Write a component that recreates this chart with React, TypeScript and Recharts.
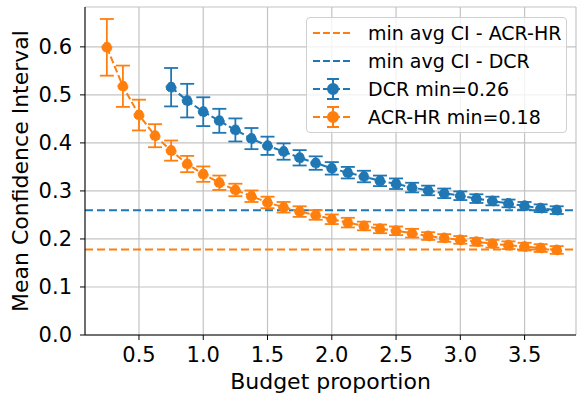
import * as React from 'react'
import { CartesianGrid, ErrorBar, Line, LineChart, ReferenceLine, XAxis, YAxis } from 'recharts'

const BLUE = '#1f77b4'
const ORANGE = '#ff7f0e'
const FONT = 'DejaVu Sans, Verdana, sans-serif'

// budget proportions of each series
const acrBudget = [0.25, 0.375, 0.5, 0.625, 0.75, 0.875, 1.0, 1.125, 1.25, 1.375, 1.5, 1.625, 1.75, 1.875, 2.0,
  2.125, 2.25, 2.375, 2.5, 2.625, 2.75, 2.875, 3.0, 3.125, 3.25, 3.375, 3.5, 3.625, 3.75]
const dcrBudget = [0.75, 0.875, 1.0, 1.125, 1.25, 1.375, 1.5, 1.625, 1.75, 1.875, 2.0,
  2.125, 2.25, 2.375, 2.5, 2.625, 2.75, 2.875, 3.0, 3.125, 3.25, 3.375, 3.5, 3.625, 3.75]

const acrMean = [0.599, 0.518, 0.458, 0.415, 0.384, 0.356, 0.335, 0.317, 0.302, 0.289, 0.276, 0.266, 0.257, 0.250, 0.241,
  0.234, 0.227, 0.221, 0.217, 0.212, 0.206, 0.202, 0.198, 0.194, 0.190, 0.187, 0.184, 0.181, 0.177]
const acrErr = [0.059, 0.043, 0.032, 0.024, 0.021, 0.017, 0.016, 0.015, 0.013, 0.012, 0.012, 0.011, 0.011, 0.010, 0.010,
  0.010, 0.009, 0.009, 0.009, 0.009, 0.008, 0.008, 0.008, 0.008, 0.008, 0.008, 0.008, 0.008, 0.008]

const dcrMean = [0.516, 0.488, 0.465, 0.446, 0.427, 0.409, 0.394, 0.382, 0.369, 0.358, 0.347,
  0.338, 0.330, 0.321, 0.315, 0.307, 0.301, 0.295, 0.290, 0.284, 0.279, 0.274, 0.269, 0.264, 0.260]
const dcrErr = [0.040, 0.035, 0.030, 0.025, 0.024, 0.022, 0.019, 0.017, 0.016, 0.014, 0.013,
  0.012, 0.012, 0.011, 0.011, 0.010, 0.010, 0.010, 0.009, 0.009, 0.009, 0.008, 0.008, 0.008, 0.008]

const minAcr = 0.178
const minDcr = 0.26

const xTicks = [0.5, 1.0, 1.5, 2.0, 2.5, 3.0, 3.5]
const yTicks = [0.0, 0.1, 0.2, 0.3, 0.4, 0.5, 0.6]

const acrData = acrBudget.map((b, i) => ({ budget: b, value: acrMean[i], err: acrErr[i] }))
const dcrData = dcrBudget.map((b, i) => ({ budget: b, value: dcrMean[i], err: dcrErr[i] }))

function Handle({ color, marker }: { color: string, marker: boolean }) {
  return (
    <svg width={40} height={28} style={{ display: 'block' }}>
      <line x1={0} x2={40} y1={14} y2={14} stroke={color} strokeWidth={2} strokeDasharray="7 3" />
      {marker && (
        <g stroke={color} strokeWidth={2}>
          <line x1={20} x2={20} y1={4} y2={24} />
          <line x1={14} x2={26} y1={4} y2={4} />
          <line x1={14} x2={26} y1={24} y2={24} />
          <circle cx={20} cy={14} r={5} fill={color} />
        </g>
      )}
    </svg>
  )
}

const legendRows = [
  { label: 'min avg CI - ACR-HR', color: ORANGE, marker: false },
  { label: 'min avg CI - DCR', color: BLUE, marker: false },
  { label: 'DCR min=0.26', color: BLUE, marker: true },
  { label: 'ACR-HR min=0.18', color: ORANGE, marker: true },
]

export default function App() {
  return (
    <div style={{ position: 'absolute', left: 0, top: 0, width: 578, height: 394, background: '#fff', fontFamily: FONT }}>
      <LineChart width={578} height={394} margin={{ top: 7, right: 2, bottom: 0, left: 0 }}>
        <CartesianGrid stroke="#c4c4c4" strokeWidth={1.2} />
        <XAxis
          dataKey="budget"
          type="number"
          domain={[0.08, 3.9]}
          ticks={xTicks}
          tickFormatter={(v: number) => v.toFixed(1)}
          height={59}
          tickSize={5}
          tickMargin={7}
          stroke="#000"
          tick={{ fill: '#000', fontSize: 21, fontFamily: FONT }}
          label={{ value: 'Budget proportion', position: 'center', dy: 17, fill: '#000', fontSize: 22, fontFamily: FONT }}
          allowDataOverflow
        />
        <XAxis xAxisId="top" orientation="top" type="number" domain={[0.08, 3.9]} height={0} tick={false} tickLine={false} stroke="#000" />
        <YAxis
          type="number"
          domain={[0, 0.683]}
          ticks={yTicks}
          tickFormatter={(v: number) => v.toFixed(1)}
          width={85}
          tickSize={5}
          tickMargin={8}
          stroke="#000"
          tick={{ fill: '#000', fontSize: 21, fontFamily: FONT }}
          label={{ value: 'Mean Confidence Interval', angle: -90, position: 'center', dx: -22, fill: '#000', fontSize: 22, fontFamily: FONT }}
          allowDataOverflow
        />
        <YAxis yAxisId="right" orientation="right" width={0} tick={false} tickLine={false} stroke="#000" />
        <ReferenceLine y={minAcr} stroke={ORANGE} strokeWidth={2} strokeDasharray="8 4" />
        <ReferenceLine y={minDcr} stroke={BLUE} strokeWidth={2} strokeDasharray="8 4" />
        <Line
          data={dcrData}
          dataKey="value"
          stroke={BLUE}
          strokeWidth={2}
          strokeDasharray="7 3"
          dot={{ r: 5, fill: BLUE, stroke: BLUE, strokeWidth: 1 }}
          activeDot={false}
          isAnimationActive={false}
        >
          <ErrorBar dataKey="err" direction="y" width={7} stroke={BLUE} strokeWidth={1.8} isAnimationActive={false} />
        </Line>
        <Line
          data={acrData}
          dataKey="value"
          stroke={ORANGE}
          strokeWidth={2}
          strokeDasharray="7 3"
          dot={{ r: 5, fill: ORANGE, stroke: ORANGE, strokeWidth: 1 }}
          activeDot={false}
          isAnimationActive={false}
        >
          <ErrorBar dataKey="err" direction="y" width={7} stroke={ORANGE} strokeWidth={1.8} isAnimationActive={false} />
        </Line>
      </LineChart>
      <div
        style={{
          position: 'absolute', left: 306, top: 17, width: 261, height: 116,
          border: '1px solid #d0d0d0', borderRadius: 4, background: 'rgba(255,255,255,0.8)',
          padding: '1px 0 0 6px', boxSizing: 'border-box',
        }}
      >
        {legendRows.map((r) => (
          <div key={r.label} style={{ display: 'flex', alignItems: 'center', height: 28 }}>
            <Handle color={r.color} marker={r.marker} />
            <span style={{ marginLeft: 15, fontSize: 19, color: '#000', whiteSpace: 'nowrap' }}>{r.label}</span>
          </div>
        ))}
      </div>
    </div>
  )
}
